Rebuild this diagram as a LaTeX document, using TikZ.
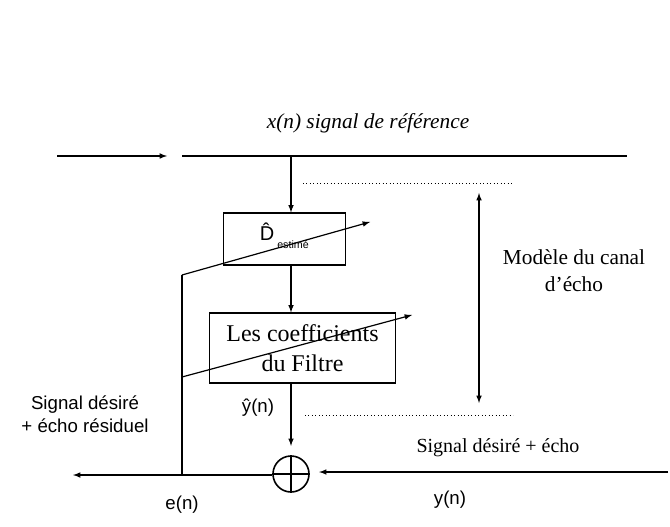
\documentclass[tikz,border=0pt]{standalone}
\usepackage{fontspec}
\setmainfont{Liberation Serif}
\setsansfont{Liberation Sans}
\usetikzlibrary{arrows,positioning,calc}

\begin{document}
\begin{tikzpicture}[x=0.75pt, y=-0.75pt, >=latex, line width=0.9pt,
    blk/.style={draw, fill=white, inner sep=0pt},
    lbl/.style={font=\sffamily\fontsize{14}{17}\selectfont, align=center},
    sig/.style={font=\fontsize{15}{18}\selectfont, align=center}]
        \useasboundingbox (0,0) rectangle (670,527);
        % Reference input
        \coordinate (xa) at (57,156);
        \coordinate (xb) at (167,156);
        \coordinate (xc) at (182,156);
        \coordinate (xd) at (627,156);
        \coordinate (xtap) at (291,156);
        \node[font=\itshape\fontsize{16}{19}\selectfont] (xlab) at (368,123) {x(n) signal de référence};
        % Estimated delay
        \node[blk, minimum width=92pt, minimum height=39pt] (dest) at (284.5,239) {};
        \node[font=\sffamily\fontsize{15}{18}\selectfont] (dhat) at (267,232) {\^{D}};
        \node[font=\sffamily\fontsize{8}{9}\selectfont, inner sep=0pt] (dsub) at (293,245) {estimé};
        % Filter
        \node[blk, minimum width=139pt, minimum height=52.5pt, font=\fontsize{18}{22}\selectfont, align=center] (filt) at (302.5,348) {Les coefficients\\du Filtre};
        % Summation
        \node[draw, circle, minimum size=27pt, inner sep=0pt, line width=1.2pt] (sum) at (291,474) {};
        \draw[line width=1.2pt] (sum.north) -- (sum.south) (sum.west) -- (sum.east);
        % Adaptation path
        \coordinate (ej) at (182,475);
        \coordinate (adapt) at (182,275);
        \coordinate (adapt2) at (182,377);
        \coordinate (d1) at (370,222);
        \coordinate (d2) at (412,315);
        \coordinate (eout) at (73,475);
        \coordinate (yin) at (668,472);
        % Echo model marker
        \coordinate (mtop) at (479,193);
        \coordinate (mbot) at (479,403);
        \coordinate (dot1a) at (303,183);
        \coordinate (dot1b) at (513,183);
        \coordinate (dot2a) at (305,415);
        \coordinate (dot2b) at (513,415);
        % Labels
        \node[lbl] (res) at (85,414) {Signal désiré\\+ écho résiduel};
        \node[lbl] (elab) at (182,505) {e(n)};
        \node[lbl] (yhat) at (258,408) {ŷ(n)};
        \node[lbl] (ylab) at (450,500) {y(n)};
        \node[sig] (deslab) at (498,448) {Signal désiré + écho};
        \node[font=\fontsize{16}{20}\selectfont, align=center] (model) at (574,271) {Modèle du canal\\d'écho};

        \draw[->] (xa) -- (xb);
        \draw (xc) -- (xd);
        \draw[->] (xtap) -- (xtap |- dest.north);
        \draw[->] (dest.south -| xtap) -- (filt.north -| xtap);
        \draw[->, shorten >=7pt] (filt.south -| sum) -- (sum.north);
        \draw[->, shorten >=7pt] (yin) -- (sum.east |- yin);
        \draw[->] (sum.west |- ej) -- (eout);
        \draw (ej) -- (adapt);
        \draw[->] (adapt) -- (d1);
        \draw[->] (adapt2) -- (d2);
        \draw[<->] (mtop) -- (mbot);
        \draw[dotted, line width=0.6pt] (dot1a) -- (dot1b);
        \draw[dotted, line width=0.6pt] (dot2a) -- (dot2b);
    \end{tikzpicture}
\end{document}
